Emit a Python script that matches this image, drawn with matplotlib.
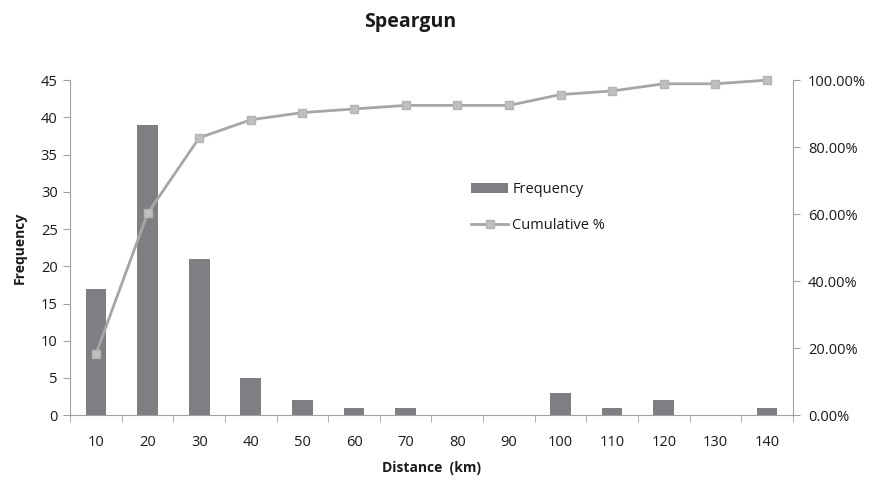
import matplotlib
matplotlib.use('Agg')
import matplotlib.pyplot as plt
from matplotlib.ticker import FuncFormatter

plt.rcParams['font.family'] = ['Open Sans', 'DejaVu Sans']

# data
distance = ['10', '20', '30', '40', '50', '60', '70', '80', '90', '100', '110', '120', '130', '140']
frequency = [17, 39, 21, 5, 2, 1, 1, 0, 0, 3, 1, 2, 0, 1]
cumulative = [18.28, 60.22, 82.80, 88.17, 90.32, 91.40, 92.47, 92.47, 92.47, 95.70, 96.77, 98.92, 98.92, 100.0]

axis_col = '#a0a0a0'
text_col = '#1a1a1a'

fig = plt.figure(figsize=(8.77, 4.8), dpi=100)
ax = fig.add_axes([0.08, 0.135, 0.824, 0.698])
ax2 = ax.twinx()

x = list(range(len(distance)))
bars = ax.bar(x, frequency, width=0.4, color='#7f7f83', label='Frequency', zorder=2)
line, = ax2.plot(x, cumulative, color='#a6a6a6', lw=2, marker='s', ms=6,
                 mfc='#c0c0c0', mec='#b4b4b4', label='Cumulative %', zorder=3,
                 clip_on=False)

ax.set_xlim(-0.5, len(distance) - 0.5)
ax.set_ylim(0, 45)
ax.set_yticks(range(0, 46, 5))
ax2.set_ylim(0, 100)
ax2.set_yticks(range(0, 101, 20))
ax2.yaxis.set_major_formatter(FuncFormatter(lambda v, p: '%.2f%%' % v))

ax.set_xticks(x)
ax.set_xticklabels(distance)
ax.set_xticks([i - 0.5 for i in range(len(distance) + 1)], minor=True)
ax.tick_params(axis='x', which='major', length=0, pad=14, labelsize=10.5, colors=text_col)
ax.tick_params(axis='x', which='minor', length=5, color=axis_col, direction='out')
ax.tick_params(axis='y', length=5, color=axis_col, labelsize=10.5, labelcolor=text_col, pad=4)
ax2.tick_params(axis='y', length=5, color=axis_col, labelsize=10.5, labelcolor=text_col, pad=6)

for a in (ax, ax2):
    a.spines['top'].set_visible(False)
    for s in ('left', 'right', 'bottom'):
        a.spines[s].set_color(axis_col)
ax2.spines['left'].set_visible(False)
ax2.spines['bottom'].set_visible(False)
ax.spines['right'].set_visible(False)

ax.set_xlabel('Distance  (km)', fontsize=10, fontweight='bold', color=text_col, labelpad=8)
ax.set_ylabel('Frequency', fontsize=10, fontweight='bold', color=text_col, labelpad=10)
fig.suptitle('Speargun', x=0.468, y=0.975, fontsize=14, fontweight='bold', color=text_col)

leg = ax.legend([bars, line], ['Frequency', 'Cumulative %'], loc='upper left',
                bbox_to_anchor=(0.537, 0.735), frameon=False, fontsize=10.5,
                handlelength=2.5, labelspacing=1.45, handletextpad=0.3)
for t in leg.get_texts():
    t.set_color(text_col)

fig.savefig('out.png', dpi=100)
